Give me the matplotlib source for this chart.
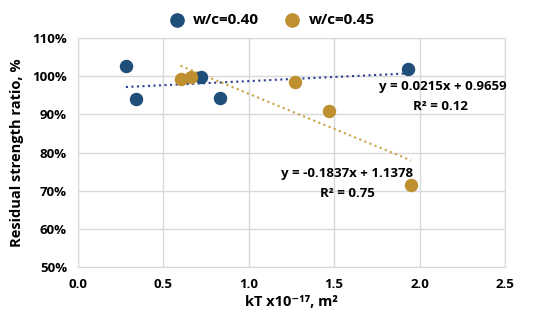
import numpy as np
import matplotlib.pyplot as plt
from matplotlib.ticker import PercentFormatter

plt.rcParams['font.family'] = ['Open Sans', 'DejaVu Sans']
plt.rcParams['font.weight'] = 'bold'

# w/c = 0.40
kt_40 = [0.28, 0.34, 0.72, 0.83, 1.93]
ratio_40 = [1.026, 0.941, 0.997, 0.944, 1.020]
# w/c = 0.45
kt_45 = [0.60, 0.66, 1.27, 1.47, 1.95]
ratio_45 = [0.993, 0.998, 0.986, 0.910, 0.714]

fit_40 = (0.0215, 0.9659)
fit_45 = (-0.1837, 1.1378)

c40 = '#1F4E79'
c45 = '#BF9030'

fig = plt.figure(figsize=(5.5, 3.23), dpi=100)
ax = fig.add_axes([0.142, 0.173, 0.776, 0.709])

ax.scatter(kt_40, ratio_40, s=75, color=c40, zorder=3, label='w/c=0.40')
ax.scatter(kt_45, ratio_45, s=75, color=c45, zorder=3, label='w/c=0.45')

xs = np.array([min(kt_40), max(kt_40)])
ax.plot(xs, fit_40[0] * xs + fit_40[1], ls=':', lw=1.5, color='#2F3F8F', zorder=2)
xs = np.array([min(kt_45), max(kt_45)])
ax.plot(xs, fit_45[0] * xs + fit_45[1], ls=':', lw=1.5, color='#C8A040', zorder=2)

ax.text(2.137, 0.9725, 'y = 0.0215x + 0.9659', ha='center', va='center', fontsize=9.5)
ax.text(2.12, 0.920, 'R² = 0.12', ha='center', va='center', fontsize=9.5)
ax.text(1.578, 0.745, 'y = -0.1837x + 1.1378', ha='center', va='center', fontsize=9.5)
ax.text(1.578, 0.692, 'R² = 0.75', ha='center', va='center', fontsize=9.5)

ax.set_xlim(0, 2.5)
ax.set_ylim(0.5, 1.1)
ax.set_xticks(np.arange(0, 2.51, 0.5))
ax.set_yticks(np.arange(0.5, 1.11, 0.1))
ax.xaxis.set_major_formatter(lambda v, p: f'{v:.1f}')
ax.yaxis.set_major_formatter(PercentFormatter(1.0, decimals=0))
ax.tick_params(length=0, labelsize=9.5, pad=8)
ax.grid(color='#D9D9D9', lw=1)
for s in ax.spines.values():
    s.set_color('#D9D9D9')

ax.set_xlabel('kT x10⁻¹⁷, m²', fontsize=10.5, fontweight='bold', labelpad=3)
ax.set_ylabel('Residual strength ratio, %', fontsize=10.5, fontweight='bold', labelpad=6)

ax.legend(loc='lower center', bbox_to_anchor=(0.445, 1.0), ncol=2, frameon=False,
          fontsize=11, handletextpad=0.05, columnspacing=1.2, borderaxespad=0.3,
          markerscale=1.1)

fig.savefig('out.png', dpi=100)
